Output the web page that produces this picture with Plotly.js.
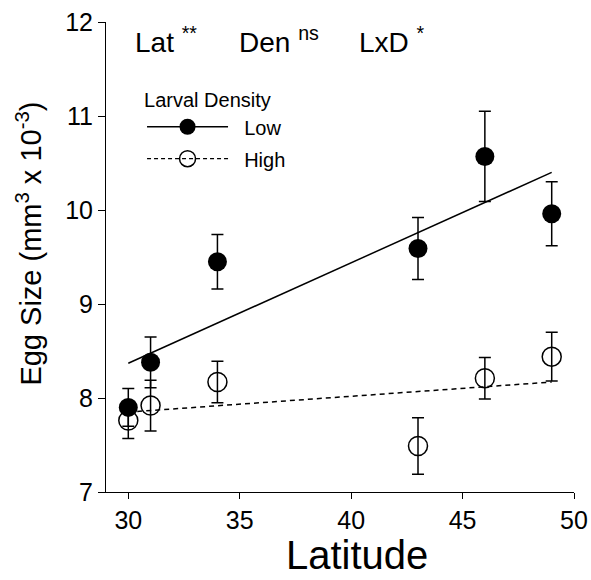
<!DOCTYPE html>
<html>
<head>
<meta charset="utf-8">
<script src="https://cdn.plot.ly/plotly-3.0.1.min.js"></script>
<style>html,body{margin:0;padding:0;background:#fff}#chart{width:591px;height:580px}</style>
</head>
<body>
<div id="chart"></div>
<script>
// Latitudes of populations
const latitude = [30, 31, 34, 43, 46, 49];
// Mean egg size (mm^3 x 10^-3), low larval density
const lowMean = [7.90, 8.38, 9.45, 9.59, 10.57, 9.96];
const lowErr  = [0.20, 0.27, 0.29, 0.33, 0.48, 0.34];
// Mean egg size, high larval density
const highMean = [7.76, 7.92, 8.17, 7.49, 8.21, 8.44];
const highErr  = [0.19, 0.27, 0.22, 0.30, 0.22, 0.26];
// Regression line end points
const fitX = [30, 49];
const lowFit = [8.37, 10.40];
const highFit = [7.85, 8.17];
// Labels
const effectLabels = ['Lat <sup>**</sup>', 'Den <sup>ns</sup>', 'LxD <sup>*</sup>'];
const effectX = [0.058, 0.28, 0.536];
const xTicks = [30, 35, 40, 45, 50];
const yTicks = [7, 8, 9, 10, 11, 12];
const seriesNames = ['\u00a0\u00a0Low', '\u00a0\u00a0High'];

const FONT = 'Liberation Sans, Arial, sans-serif';
const errStyle = (arr) => ({type: 'data', array: arr, visible: true, color: '#000', thickness: 1.5, width: 6});

const traces = [
  {x: fitX, y: highFit, mode: 'lines', line: {color: '#000', width: 1.5, dash: '5px,4px'}, showlegend: false, hoverinfo: 'skip'},
  {x: fitX, y: lowFit, mode: 'lines', line: {color: '#000', width: 1.5}, showlegend: false, hoverinfo: 'skip'},
  {x: latitude, y: highMean, mode: 'markers', error_y: errStyle(highErr),
   marker: {symbol: 'circle-open', size: 19, color: '#000', line: {width: 1.5, color: '#000'}}, showlegend: false},
  {x: latitude, y: lowMean, mode: 'markers', error_y: errStyle(lowErr),
   marker: {symbol: 'circle', size: 19, color: '#000'}, showlegend: false},
  {x: [null], y: [null], name: seriesNames[0], legendgroup: 'a', mode: 'lines+markers', line: {color: '#000', width: 1.5},
   marker: {symbol: 'circle', size: 19, color: '#000'}},
  {x: [null], y: [null], name: seriesNames[1], legendgroup: 'b', mode: 'lines+markers', line: {color: '#000', width: 1.2, dash: '4px,3px'},
   marker: {symbol: 'circle-open', size: 18, color: '#000', line: {width: 1.5}}}
];

const layout = {
  width: 591, height: 580,
  margin: {l: 106, r: 17, t: 22, b: 88},
  paper_bgcolor: '#fff', plot_bgcolor: '#fff',
  font: {family: FONT, color: '#000'},
  xaxis: {
    range: [29, 50], tickvals: xTicks, ticks: 'outside', ticklen: 6, tickwidth: 1, tickcolor: '#000',
    showline: true, linecolor: '#000', linewidth: 1, showgrid: false, zeroline: false,
    tickfont: {size: 25, family: FONT}
  },
  yaxis: {
    range: [7, 12], tickvals: yTicks, ticks: 'outside', ticklen: 7, tickwidth: 1, tickcolor: '#000',
    showline: true, linecolor: '#000', linewidth: 1, showgrid: false, zeroline: false,
    tickfont: {size: 25, family: FONT}
  },
  showlegend: true,
  legend: {
    x: 0.077, y: 0.874, xanchor: 'left', yanchor: 'top', bgcolor: 'rgba(0,0,0,0)',
    itemwidth: 81, font: {size: 20, family: FONT},
    title: {text: 'Larval Density', font: {size: 20, family: FONT}},
    tracegroupgap: 3
  },
  annotations: effectLabels.map((t, i) => ({
    text: t, x: effectX[i], y: 0.962, xref: 'paper', yref: 'paper', xanchor: 'left', yanchor: 'middle',
    showarrow: false, font: {size: 28, family: FONT, color: '#000'}
  })).concat([
    {text: 'Latitude', x: 0.537, y: -0.185, xref: 'paper', yref: 'paper', xanchor: 'center', yanchor: 'bottom',
     showarrow: false, font: {size: 40, family: FONT, color: '#000'}},
    {text: 'Egg Size (mm<sup>3</sup> x 10<sup>-3</sup>)', x: -0.165, y: 0.528, xref: 'paper', yref: 'paper',
     xanchor: 'center', yanchor: 'middle', textangle: -90,
     showarrow: false, font: {size: 29, family: FONT, color: '#000'}}
  ])
};

Plotly.newPlot('chart', traces, layout, {displayModeBar: false, staticPlot: true});
</script>
</body>
</html>
